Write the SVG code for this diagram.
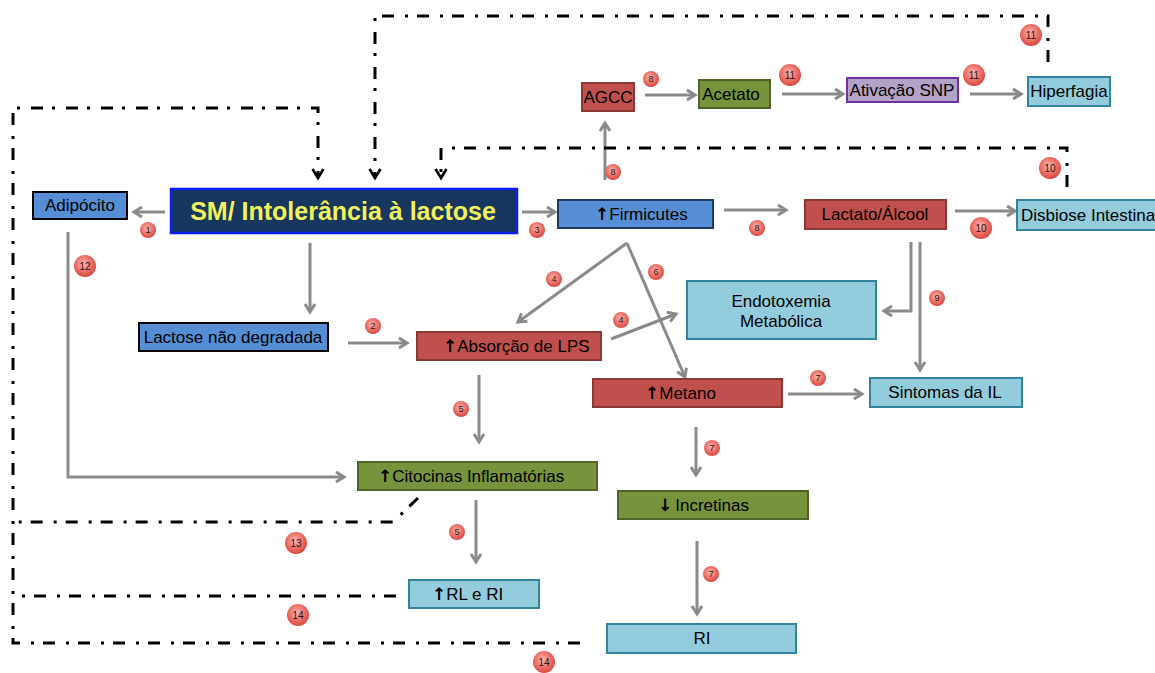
<svg xmlns="http://www.w3.org/2000/svg" width="1155" height="673" viewBox="0 0 1155 673">
<style>
  text { font-family: "Liberation Sans", Arial, sans-serif; font-size: 17px; fill: #000; }
  .c { text-anchor: middle; }
  .blue { fill: #558ed5; stroke: #000; stroke-width: 2; }
  .blue2 { fill: #558ed5; stroke: #1f3864; stroke-width: 2; }
  .red { fill: #c0504d; stroke: #8c3836; stroke-width: 2; }
  .green { fill: #77933c; stroke: #4f6228; stroke-width: 2; }
  .lb { fill: #93cddd; stroke: #31849b; stroke-width: 2; }
  .pur { fill: #b3a2c7; stroke: #7030a0; stroke-width: 2; }
  .gl { fill: none; stroke: #8a8a8a; stroke-width: 3; marker-end: url(#ag); }
  .dl { fill: none; stroke: #000; stroke-width: 3; stroke-dasharray: 12 9 3 11; }
  .da { marker-end: url(#ab); }
  .bs circle { fill: url(#sph); }
  .bs text { font-size: 9px; text-anchor: middle; fill: #2a1010; }
  .bb circle { fill: url(#sph); }
  .bb text { font-size: 10px; text-anchor: middle; fill: #2a1010; }
  .arw { font-family: "DejaVu Sans", sans-serif; font-weight: bold; font-size: 17px; }
</style>
<defs>
  <radialGradient id="sph" cx="0.45" cy="0.4" r="0.6">
    <stop offset="0" stop-color="#f9b7b0"/>
    <stop offset="0.6" stop-color="#ec6f66"/>
    <stop offset="1" stop-color="#d8463e"/>
  </radialGradient>
  <marker id="ag" markerUnits="userSpaceOnUse" markerWidth="14" markerHeight="14" refX="9" refY="6" orient="auto" overflow="visible">
    <path d="M1,1 L9,6 L1,11" fill="none" stroke="#8a8a8a" stroke-width="3"/>
  </marker>
  <marker id="ab" markerUnits="userSpaceOnUse" markerWidth="14" markerHeight="14" refX="9" refY="5.5" orient="auto" overflow="visible">
    <path d="M0,0 L9,5.5 L0,11" fill="none" stroke="#000" stroke-width="2.6"/>
  </marker>
</defs>

<g id="connectors">
  <path class="gl" d="M165,212 L134,212"/>
  <path class="gl" d="M310,243 L310,312"/>
  <path class="gl" d="M522,212 L555,212"/>
  <path class="gl" d="M348,343 L407,343"/>
  <path class="gl" d="M605,180 L605,123"/>
  <path class="gl" d="M645,95 L695,95"/>
  <path class="gl" d="M782,94 L843,94"/>
  <path class="gl" d="M970,94 L1021,94"/>
  <path class="gl" d="M724,210 L786,210"/>
  <path class="gl" d="M955,211 L1015,211"/>
  <path class="gl" d="M627,243 L518,322"/>
  <path class="gl" d="M627,243 L685,377"/>
  <path class="gl" d="M611,339 L676,314"/>
  <path class="gl" d="M911,242 L911,311 L884,311"/>
  <path class="gl" d="M920,242 L920,370"/>
  <path class="gl" d="M788,394 L862,394"/>
  <path class="gl" d="M479,375 L479,442"/>
  <path class="gl" d="M696,427 L696,475"/>
  <path class="gl" d="M697,541 L697,614"/>
  <path class="gl" d="M476,500 L476,562"/>
  <path class="gl" d="M68,232 L68,477 L344,477"/>

  <path class="dl da" d="M1048,62 L1048,16 L375,16 L375,178"/>
  <path class="dl da" d="M1067,187 L1067,148 L441,148 L441,178"/>
  <path class="dl da" d="M580,643 L13,643 L13,108 L318,108 L318,178"/>
  <path class="dl" d="M418,498 L393,522 L13,522"/>
  <path class="dl" d="M396,596 L22,596"/>
</g>

<g id="adipocito"><rect class="blue" x="33" y="192" width="94" height="27"/><text class="c" x="80" y="211">Adipócito</text></g>
<g id="sm"><rect x="171" y="189" width="346" height="44" fill="#17375e" stroke="#0a1ef0" stroke-width="2.5"/><text class="c" x="343" y="220" style="font-size:25px;font-weight:bold;fill:#f2f25a">SM/ Intolerância à lactose</text></g>
<g id="firmicutes"><rect class="blue2" x="558" y="200" width="155" height="28"/><text x="595" y="220"><tspan class="arw">↑</tspan>Firmicutes</text></g>
<g id="lactato"><rect class="red" x="805" y="200" width="141" height="29"/><text class="c" x="875" y="220">Lactato/Álcool</text></g>
<g id="disbiose"><rect class="lb" x="1017" y="200" width="145" height="30"/><text x="1021" y="221">Disbiose Intestina</text></g>
<g id="agcc"><rect class="red" x="582" y="83" width="52" height="28"/><text class="c" x="608" y="103">AGCC</text></g>
<g id="acetato"><rect class="green" x="699" y="80" width="71" height="28"/><text class="c" x="731" y="100">Acetato</text></g>
<g id="ativacao"><rect class="pur" x="847" y="78" width="111" height="24"/><text class="c" x="902" y="96">Ativação SNP</text></g>
<g id="hiperfagia"><rect class="lb" x="1028" y="77" width="82" height="29"/><text class="c" x="1069" y="97">Hiperfagia</text></g>
<g id="lactose"><rect class="blue" x="139" y="323" width="189" height="28"/><text class="c" x="233" y="343">Lactose não degradada</text></g>
<g id="absorcao"><rect class="red" x="417" y="332" width="184" height="28"/><text x="443" y="352"><tspan class="arw">↑</tspan>Absorção de LPS</text></g>
<g id="endotoxemia"><rect class="lb" x="687" y="281" width="189" height="58"/><text class="c" x="781" y="307">Endotoxemia</text><text class="c" x="781" y="327">Metabólica</text></g>
<g id="metano"><rect class="red" x="593" y="379" width="189" height="28"/><text x="645" y="399"><tspan class="arw">↑</tspan>Metano</text></g>
<g id="sintomas"><rect class="lb" x="870" y="378" width="152" height="29"/><text class="c" x="945" y="398">Sintomas da IL</text></g>
<g id="citocinas"><rect class="green" x="358" y="462" width="239" height="28"/><text x="378" y="482"><tspan class="arw">↑</tspan>Citocinas Inflamatórias</text></g>
<g id="incretinas"><rect class="green" x="618" y="491" width="190" height="28"/><text x="658" y="511"><tspan class="arw">↓</tspan><tspan dx="3">Incretinas</tspan></text></g>
<g id="rlri"><rect class="lb" x="409" y="580" width="130" height="28"/><text x="432" y="600"><tspan class="arw">↑</tspan>RL e RI</text></g>
<g id="ri"><rect class="lb" x="607" y="624" width="189" height="29"/><text class="c" x="702" y="644">RI</text></g>

<g id="badges">
  <g class="bs"><circle cx="148" cy="230" r="8"/><text x="148" y="233">1</text></g>
  <g class="bs"><circle cx="537" cy="230" r="8"/><text x="537" y="233">3</text></g>
  <g class="bs"><circle cx="651" cy="79" r="8"/><text x="651" y="82">8</text></g>
  <g class="bb"><circle cx="790" cy="75" r="11"/><text x="790" y="79">11</text></g>
  <g class="bb"><circle cx="974" cy="75" r="11"/><text x="974" y="79">11</text></g>
  <g class="bb"><circle cx="1031" cy="35" r="11"/><text x="1031" y="39">11</text></g>
  <g class="bs"><circle cx="613" cy="172" r="8"/><text x="613" y="175">8</text></g>
  <g class="bs"><circle cx="757" cy="228" r="8"/><text x="757" y="231">8</text></g>
  <g class="bb"><circle cx="981" cy="228" r="11"/><text x="981" y="232">10</text></g>
  <g class="bb"><circle cx="1050" cy="168" r="11"/><text x="1050" y="172">10</text></g>
  <g class="bb"><circle cx="85" cy="266" r="11"/><text x="85" y="270">12</text></g>
  <g class="bs"><circle cx="373" cy="326" r="8"/><text x="373" y="329">2</text></g>
  <g class="bs"><circle cx="554" cy="279" r="8"/><text x="554" y="282">4</text></g>
  <g class="bs"><circle cx="656" cy="272" r="8"/><text x="656" y="275">6</text></g>
  <g class="bs"><circle cx="621" cy="320" r="8"/><text x="621" y="323">4</text></g>
  <g class="bs"><circle cx="937" cy="298" r="8"/><text x="937" y="301">9</text></g>
  <g class="bs"><circle cx="818" cy="378" r="8"/><text x="818" y="381">7</text></g>
  <g class="bs"><circle cx="461" cy="409" r="8"/><text x="461" y="412">5</text></g>
  <g class="bs"><circle cx="712" cy="448" r="8"/><text x="712" y="451">7</text></g>
  <g class="bs"><circle cx="457" cy="532" r="8"/><text x="457" y="535">5</text></g>
  <g class="bs"><circle cx="711" cy="574" r="8"/><text x="711" y="577">7</text></g>
  <g class="bb"><circle cx="296" cy="543" r="11"/><text x="296" y="547">13</text></g>
  <g class="bb"><circle cx="298" cy="615" r="11"/><text x="298" y="619">14</text></g>
  <g class="bb"><circle cx="544" cy="662" r="11"/><text x="544" y="666">14</text></g>
</g>
</svg>
